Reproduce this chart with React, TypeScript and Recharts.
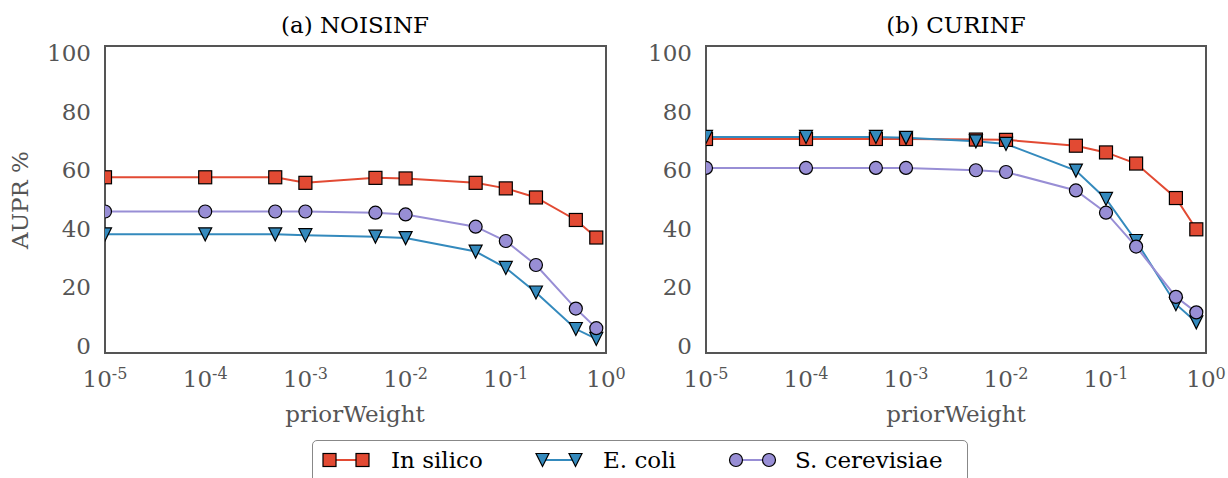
import React from 'react';
import { LineChart, Line, XAxis, YAxis, ReferenceArea } from 'recharts';

// priorWeight values shared by both panels
const priorWeights = [1e-5, 1e-4, 5e-4, 1e-3, 5e-3, 1e-2, 5e-2, 0.1, 0.2, 0.5, 0.8];

// (a) NOISINF
const noisInSilico = [57.6, 57.6, 57.6, 55.7, 57.4, 57.2, 55.7, 53.8, 50.7, 43.0, 37.0];
const noisEColi = [38.1, 38.1, 38.1, 37.8, 37.3, 36.8, 32.2, 26.6, 18.2, 5.7, 2.3];
const noisSCer = [45.9, 45.9, 45.9, 45.9, 45.5, 44.9, 40.7, 35.8, 27.6, 12.7, 6.0];

// (b) CURINF
const curInSilico = [70.7, 70.7, 70.7, 70.7, 70.5, 70.4, 68.4, 66.1, 62.3, 50.5, 39.8];
const curEColi = [71.4, 71.4, 71.4, 71.1, 69.9, 69.0, 59.9, 50.2, 35.8, 14.2, 8.0];
const curSCer = [60.8, 60.8, 60.8, 60.8, 60.0, 59.4, 53.1, 45.5, 33.9, 16.7, 11.4];

const xTicks = [1e-5, 1e-4, 1e-3, 1e-2, 1e-1, 1];
const yTicks = [0, 20, 40, 60, 80, 100];

const RED = '#E24A33';
const BLUE = '#348ABD';
const PURPLE = '#988ED5';
const GREY = '#555555';
const FONT = '"DejaVu Serif", serif';

function buildRows(a: number[], b: number[], c: number[]) {
  return priorWeights.map((w, i) => ({ w, inSilico: a[i], eColi: b[i], sCer: c[i] }));
}

const Square = ({ cx, cy, fill }: any) => (
  <rect x={cx - 6.5} y={cy - 6.5} width={13} height={13} fill={fill} stroke="#000" strokeWidth={1.2} />
);
const Tri = ({ cx, cy, fill }: any) => (
  <path d={`M${cx - 6.5},${cy - 6.5}L${cx + 6.5},${cy - 6.5}L${cx},${cy + 6.5}Z`} fill={fill} stroke="#000" strokeWidth={1.2} />
);
const Circ = ({ cx, cy, fill }: any) => (
  <circle cx={cx} cy={cy} r={6.5} fill={fill} stroke="#000" strokeWidth={1.2} />
);

const PowTick = ({ x, y, payload }: any) => {
  const exp = Math.round(Math.log10(payload.value));
  return (
    <text x={x} y={y + 34} textAnchor="middle" fill={GREY} fontFamily={FONT} fontSize={23}>
      <tspan>10</tspan>
      <tspan dy={-8} fontSize={16}>{exp}</tspan>
    </text>
  );
};

function Panel({ rows, left, width, marginLeft, marginRight }: any) {
  return (
    <div style={{ position: 'absolute', left, top: 0 }}>
      <LineChart
        width={width}
        height={478}
        data={rows}
        margin={{ top: 46, right: marginRight, left: marginLeft, bottom: 95 }}
      >
        <XAxis
          dataKey="w"
          type="number"
          scale="log"
          domain={[1e-5, 1]}
          ticks={xTicks}
          allowDataOverflow
          axisLine={false}
          tickLine={false}
          tickSize={0}
          tickMargin={0}
          height={30}
          tick={<PowTick />}
        />
        <YAxis
          type="number"
          domain={[-2.5, 102.5]}
          ticks={yTicks}
          allowDataOverflow
          axisLine={false}
          tickLine={false}
          tickSize={0}
          tickMargin={14}
          width={60}
          tick={{ fill: GREY, fontFamily: FONT, fontSize: 23 }}
        />
        <ReferenceArea x1={1e-5} x2={1} y1={-2.5} y2={102.5} fill="none" stroke={GREY} strokeWidth={2} />
        <Line dataKey="inSilico" stroke={RED} strokeWidth={2} isAnimationActive={false}
          dot={(p: any) => <Square key={`r${p.index}`} cx={p.cx} cy={p.cy} fill={RED} />} />
        <Line dataKey="eColi" stroke={BLUE} strokeWidth={2} isAnimationActive={false}
          dot={(p: any) => <Tri key={`b${p.index}`} cx={p.cx} cy={p.cy} fill={BLUE} />} />
        <Line dataKey="sCer" stroke={PURPLE} strokeWidth={2} isAnimationActive={false}
          dot={(p: any) => <Circ key={`p${p.index}`} cx={p.cx} cy={p.cy} fill={PURPLE} />} />
      </LineChart>
    </div>
  );
}

const label: React.CSSProperties = { position: 'absolute', fontFamily: FONT, fontSize: 23, whiteSpace: 'nowrap', lineHeight: 1 };

export default function App() {
  const noisRows = buildRows(noisInSilico, noisEColi, noisSCer);
  const curRows = buildRows(curInSilico, curEColi, curSCer);
  return (
    <div style={{ position: 'fixed', left: 0, top: 0, width: 1228, height: 478, background: '#fff', overflow: 'hidden' }}>
      <Panel rows={curRows} left={620} width={608} marginLeft={26} marginRight={22} />
      <Panel rows={noisRows} left={0} width={640} marginLeft={45} marginRight={34} />

      <div style={{ ...label, left: 355, top: 25, transform: 'translate(-50%,-50%)', color: '#000' }}>(a) NOISINF</div>
      <div style={{ ...label, left: 956, top: 25, transform: 'translate(-50%,-50%)', color: '#000' }}>(b) CURINF</div>
      <div style={{ ...label, left: 355, top: 414, transform: 'translate(-50%,-50%)', color: GREY }}>priorWeight</div>
      <div style={{ ...label, left: 956, top: 414, transform: 'translate(-50%,-50%)', color: GREY }}>priorWeight</div>
      <div style={{ ...label, left: 20, top: 200, transform: 'translate(-50%,-50%) rotate(-90deg)', color: GREY }}>AUPR %</div>

      <div style={{ position: 'absolute', left: 312, top: 440, width: 656, height: 60, border: '1px solid #888', borderRadius: 5, boxSizing: 'border-box', background: '#fff' }}>
        <svg style={{ position: 'absolute', left: -1, top: -1 }} width={656} height={60}>
          <line x1={17.5} x2={50.5} y1={20} y2={20} stroke={RED} strokeWidth={2} />
          <Square cx={17.5} cy={20} fill={RED} />
          <Square cx={50.5} cy={20} fill={RED} />
          <line x1={230.5} x2={263.5} y1={20} y2={20} stroke={BLUE} strokeWidth={2} />
          <Tri cx={230.5} cy={20} fill={BLUE} />
          <Tri cx={263.5} cy={20} fill={BLUE} />
          <line x1={424} x2={457} y1={20} y2={20} stroke={PURPLE} strokeWidth={2} />
          <Circ cx={424} cy={20} fill={PURPLE} />
          <Circ cx={457} cy={20} fill={PURPLE} />
        </svg>
        <div style={{ ...label, left: 78, top: 19, transform: 'translateY(-50%)', color: '#000' }}>In silico</div>
        <div style={{ ...label, left: 290, top: 19, transform: 'translateY(-50%)', color: '#000' }}>E. coli</div>
        <div style={{ ...label, left: 482, top: 19, transform: 'translateY(-50%)', color: '#000' }}>S. cerevisiae</div>
      </div>
    </div>
  );
}
